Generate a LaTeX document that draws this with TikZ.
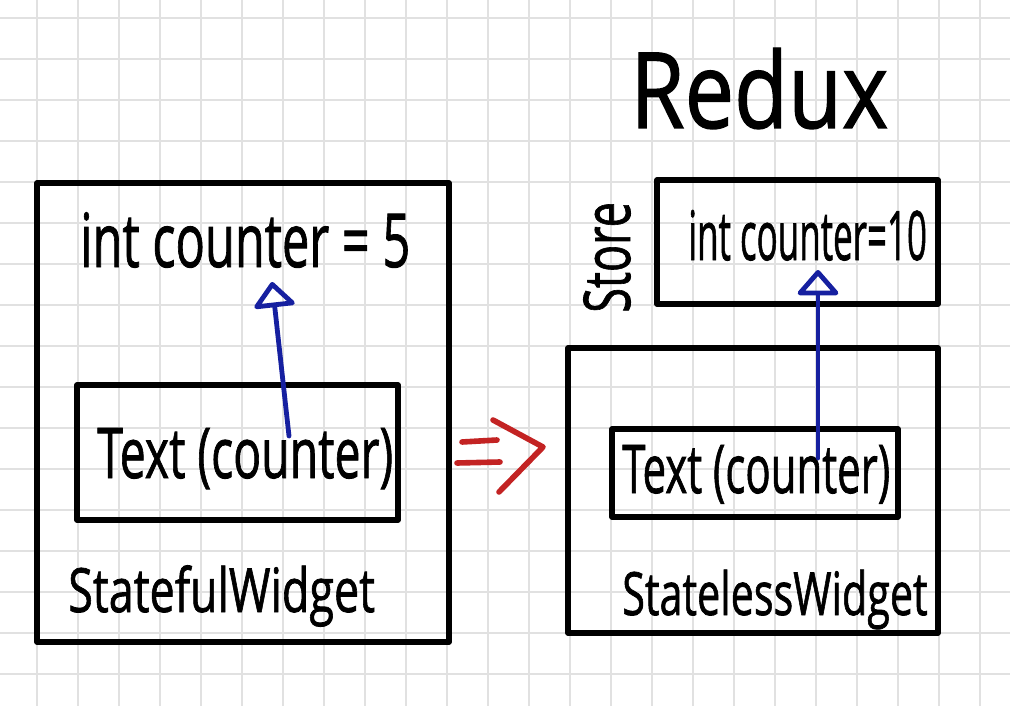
\documentclass[tikz,border=0pt]{standalone}
\usepackage{fontspec}
\setmainfont{Open Sans}
\newfontfamily\hwfont[FakeBold=1.3]{Open Sans}
\usepackage{graphicx}
\usetikzlibrary{arrows.meta,fit}
\newcommand\handtext[3]{\resizebox{#1}{#2}{#3}}
\definecolor{inkblue}{RGB}{22,32,160}
\definecolor{inkred}{RGB}{195,35,35}
\definecolor{gridgray}{RGB}{225,225,225}
\begin{document}
\begin{tikzpicture}[x=0.75pt,y=-0.75pt,
  gridline/.style={draw=gridgray,line width=1.2pt},
  box/.style={draw=black,line width=4.2pt,line join=round,inner sep=0pt},
  hl/.style={inner sep=0pt,anchor=base west,text=black,font=\hwfont},
  bluearrow/.style={draw=inkblue,line width=3.6pt,line cap=round,
    -{Triangle[open,length=20pt,width=34pt,round]}},
  redink/.style={draw=inkred,line width=4.2pt,line cap=round,line join=round}]
\useasboundingbox (0,0) rectangle (1010,706);
\fill[white] (0,0) rectangle (1010,706);
% grid
\foreach \i in {0,...,23} \draw[gridline] ({37+41*\i},0) -- ({37+41*\i},706);
\foreach \j in {0,...,16} \draw[gridline] (0,{18+41*\j}) -- (1010,{18+41*\j});
% boxes
\node[box,fit={(37,183)(449,642)}] (sfbox) {};
\node[box,fit={(77,385)(398,520)}] (txtbox1) {};
\node[box,fit={(657,180)(938,304)}] (storebox) {};
\node[box,fit={(568,348)(938,633)}] (slbox) {};
\node[box,fit={(612,429)(898,517)}] (txtbox2) {};
% texts
\node[hl] (intc1) at (80,267) {\handtext{247.5pt}{41pt}{int counter = 5}};
\node[hl] (txt1) at (97,478) {\handtext{222pt}{37.5pt}{Text (counter)}};
\node[hl] (sfw) at (68,612) {\handtext{230pt}{35pt}{StatefulWidget}};
\node[hl] (slw) at (622,615) {\handtext{229pt}{34pt}{StatelessWidget}};
\node[hl] (intc2) at (688,260) {\handtext{179pt}{37.5pt}{int counter=10}};
\node[hl] (txt2) at (622,493) {\handtext{201pt}{36pt}{Text (counter)}};
\node[hl] (redux) at (630,128) {\handtext{193.5pt}{60pt}{Redux}};
\node[hl,rotate=90] (store) at (630,313) {\handtext{83pt}{35pt}{Store}};
% blue arrows
\coordinate (a1s) at (289,436);
\coordinate (a1e) at (272,282);
\coordinate (a2s) at (818,458);
\coordinate (a2e) at (818,270);
\draw[bluearrow] (a1s) -- (a1e);
\draw[bluearrow] (a2s) -- (a2e);
% red implication arrow
\draw[redink] (462,442) -- (497,440);
\draw[redink] (457,463) -- (500,462);
\draw[redink] (493,420) -- (543,447) -- (499,492);
\end{tikzpicture}
\end{document}
